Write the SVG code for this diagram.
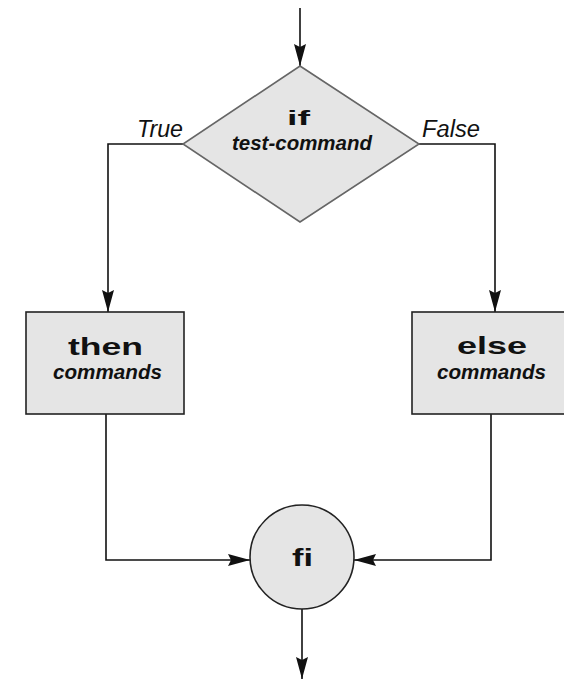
<svg xmlns="http://www.w3.org/2000/svg" width="564" height="680" viewBox="0 0 564 680">
<style>
.shape{fill:#e5e5e5;stroke:#222;stroke-width:1.6}
.dia{fill:#e5e5e5;stroke:#666;stroke-width:1.6}
.conn{fill:none;stroke:#111;stroke-width:1.6}
text{font-family:"Liberation Sans",Arial,sans-serif;fill:#111}
.b{font-weight:bold;font-size:24px}
.bi{font-weight:bold;font-style:italic;font-size:21px}
.i{font-style:italic;font-size:23px}
</style>
<defs>
<marker id="ah" markerUnits="userSpaceOnUse" markerWidth="22" markerHeight="12" refX="22" refY="6" orient="auto">
<path d="M0,0 L22,6 L0,12 L3,6 z" fill="#111"/>
</marker>
</defs>
<rect width="564" height="680" fill="#fff"/>
<g id="connectors">
<path class="conn" d="M300,8 V66" marker-end="url(#ah)"/>
<path class="conn" d="M183,144 H108 V312" marker-end="url(#ah)"/>
<path class="conn" d="M419,144 H495 V312" marker-end="url(#ah)"/>
<path class="conn" d="M106,414 V560 H250" marker-end="url(#ah)"/>
<path class="conn" d="M491,414 V560 H354" marker-end="url(#ah)"/>
<path class="conn" d="M302,609 V679" marker-end="url(#ah)"/>
<text class="i" x="137" y="137" textLength="46" lengthAdjust="spacingAndGlyphs">True</text>
<text class="i" x="422" y="137" textLength="58" lengthAdjust="spacingAndGlyphs">False</text>
</g>
<g id="if">
<polygon class="dia" points="300,66 419,144 300,222 183,144"/>
<text class="b" x="287" y="125" textLength="23" lengthAdjust="spacingAndGlyphs" style="font-size:21px">if</text>
<text class="bi" x="232" y="150" textLength="140" lengthAdjust="spacingAndGlyphs">test-command</text>
</g>
<g id="then">
<rect class="shape" x="26" y="312" width="158" height="102"/>
<text class="b" x="68" y="355" textLength="75" lengthAdjust="spacingAndGlyphs">then</text>
<text class="bi" x="53" y="379" textLength="109" lengthAdjust="spacingAndGlyphs">commands</text>
</g>
<g id="else">
<rect class="shape" x="412" y="312" width="158" height="102"/>
<text class="b" x="457" y="354" textLength="70" lengthAdjust="spacingAndGlyphs">else</text>
<text class="bi" x="437" y="379" textLength="109" lengthAdjust="spacingAndGlyphs">commands</text>
</g>
<g id="fi">
<circle class="shape" cx="302" cy="557" r="52"/>
<text class="b" x="292" y="566" textLength="21" lengthAdjust="spacingAndGlyphs">fi</text>
</g>
</svg>
